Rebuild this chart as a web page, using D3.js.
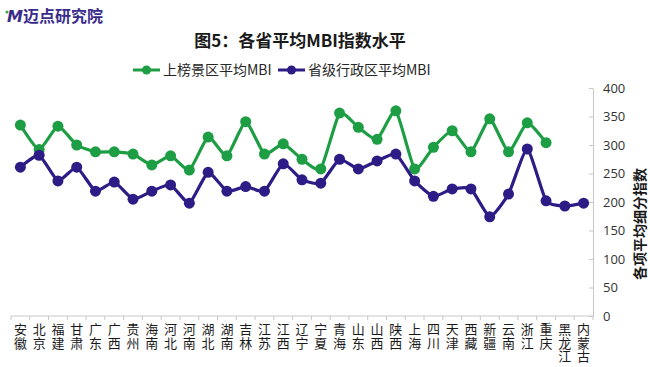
<!DOCTYPE html>
<html><head><meta charset="utf-8">
<script src="https://cdn.jsdelivr.net/npm/d3@7"></script>
<style>
html,body{margin:0;padding:0;background:#fff;}
svg{display:block;font-family:"Noto Sans CJK SC","Noto Sans",sans-serif;}
</style></head>
<body><svg id="c" width="650" height="367"></svg>
<script>
const categories = ["安徽","北京","福建","甘肃","广东","广西","贵州","海南","河北","河南","湖北","湖南","吉林","江苏","江西","辽宁","宁夏","青海","山东","山西","陕西","上海","四川","天津","西藏","新疆","云南","浙江","重庆","黑龙江","内蒙古"];
const scenicAvg = [335,292,333,300,288,288,284,265,281,256,314,281,341,284,302,275,258,356,331,310,360,258,296,325,288,346,288,339,304,null,null];
const provinceAvg = [261,282,237,261,219,235,205,219,230,198,252,219,227,219,267,239,233,275,258,272,284,237,210,223,223,174,214,293,202,193,198];
const yTicks = [0,50,100,150,200,250,300,350,400];
const seriesNames = ["上榜景区平均MBI","省级行政区平均MBI"];
const colors = ["#1e9e44","#2e1c86"];

const svg = d3.select("#c");
const x = d3.scaleBand().domain(categories).range([11,593]);
const y = d3.scaleLinear().domain([0,400]).range([316,88]);
const cx = d => x(d) + x.bandwidth()/2;

// logo
const logo = svg.append("text").attr("x",7).attr("y",22).attr("font-size",16).attr("font-weight","bold").attr("fill","#3a2c8c");
logo.append("tspan").attr("font-style","italic").attr("font-family","DejaVu Sans").text("M");
logo.append("tspan").text("迈点研究院");
svg.append("circle").attr("cx",7).attr("cy",12).attr("r",1.5).attr("fill","#39a845");

// title
svg.append("text").attr("x",300).attr("y",47).attr("text-anchor","middle")
  .attr("font-size",17).attr("font-weight","bold").attr("fill","#1a1a1a").text("图5：各省平均MBI指数水平");

// legend
const leg = [{x0:133,name:seriesNames[0],c:colors[0]},{x0:278,name:seriesNames[1],c:colors[1]}];
leg.forEach(l=>{
  svg.append("line").attr("x1",l.x0).attr("x2",l.x0+27).attr("y1",70).attr("y2",70).attr("stroke",l.c).attr("stroke-width",3);
  svg.append("circle").attr("cx",l.x0+13.5).attr("cy",70).attr("r",4.5).attr("fill",l.c);
  svg.append("text").attr("x",l.x0+30).attr("y",75).attr("font-size",14).attr("fill","#262626").text(l.name);
});

// right axis
const ay = svg.append("g").attr("transform","translate(593,0)")
  .call(d3.axisRight(y).tickValues(yTicks).tickSize(0).tickPadding(10));
ay.select(".domain").attr("stroke","#c8c8c8");
ay.selectAll(".tick text").attr("font-size",13).attr("fill","#333").attr("font-family","Open Sans, Noto Sans, sans-serif");
ay.selectAll(".tick").append("line").attr("x1",-4).attr("x2",0).attr("stroke","#c8c8c8");
svg.append("text").attr("transform","translate(645,224) rotate(-90)").attr("text-anchor","middle")
  .attr("font-size",14).attr("font-weight","bold").attr("fill","#1a1a1a").text("各项平均细分指数");

// x axis
svg.append("line").attr("x1",11).attr("x2",593).attr("y1",316).attr("y2",316).attr("stroke","#c8c8c8");
svg.selectAll(".xt").data(categories.concat(["_end"])).enter().append("line")
  .attr("x1",(d,i)=>11+i*x.step()).attr("x2",(d,i)=>11+i*x.step())
  .attr("y1",316).attr("y2",320).attr("stroke","#c8c8c8");
categories.forEach(d=>{
  Array.from(d).forEach((ch,i)=>{
    svg.append("text").attr("text-anchor","middle").attr("font-size",13).attr("fill","#1a1a1a")
      .attr("x",cx(d)).attr("y",334+i*13.5).text(ch);
  });
});

// lines
[scenicAvg, provinceAvg].forEach((vals,si)=>{
  const pts = categories.map((c,i)=>({c,v:vals[i]})).filter(p=>p.v!=null);
  const line = d3.line().x(p=>cx(p.c)).y(p=>y(p.v)).curve(d3.curveCardinal.tension(0.5));
  svg.append("path").datum(pts).attr("d",line).attr("fill","none").attr("stroke",colors[si]).attr("stroke-width",3.2);
  svg.selectAll(".m"+si).data(pts).enter().append("circle")
    .attr("cx",p=>cx(p.c)).attr("cy",p=>y(p.v)).attr("r",5.5).attr("fill",colors[si]);
});
</script></body></html>
